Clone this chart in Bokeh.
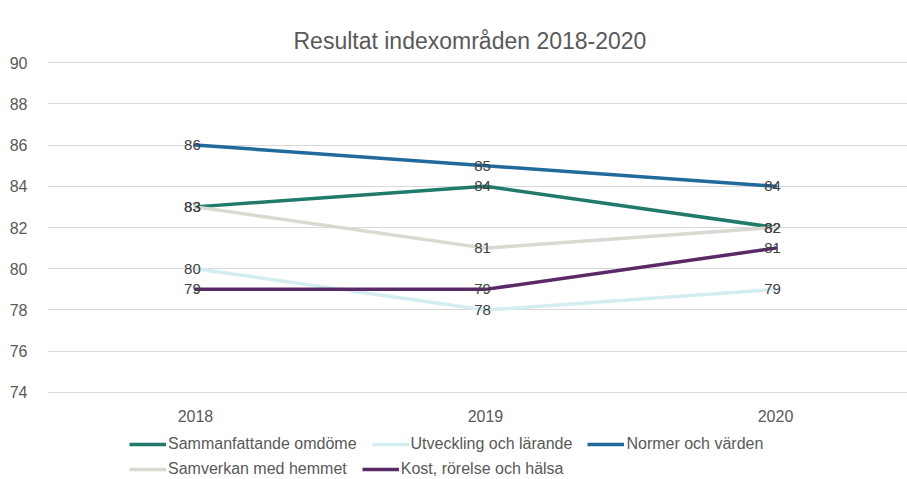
from bokeh.plotting import figure
from bokeh.models import Legend, LegendItem, ColumnDataSource, FixedTicker, Range1d, Title
from bokeh.layouts import column
from bokeh.embed import file_html
from bokeh.resources import INLINE
from bokeh.core.properties import value

years = [2018, 2019, 2020]
series_names = ["Sammanfattande omdöme", "Utveckling och lärande", "Normer och värden",
                "Samverkan med hemmet", "Kost, rörelse och hälsa"]
sammanfattande = [83, 84, 82]
utveckling = [80, 78, 79]
normer = [86, 85, 84]
samverkan = [83, 81, 82]
kost = [79, 79, 81]
y_ticks = [74, 76, 78, 80, 82, 84, 86, 88, 90]

colors = ["#217a6c", "#d3edf0", "#22699c", "#d9d8d1", "#5a2a66"]
all_values = [sammanfattande, utveckling, normer, samverkan, kost]

FONT = "Liberation Sans"

# ---- main chart ----
p = figure(width=907, height=428, output_backend="svg", toolbar_location=None,
           x_range=Range1d(2017.49, 2020.455), y_range=Range1d(73.95, 90.05),
           min_border_left=47, min_border_right=0, min_border_top=61, min_border_bottom=35)
p.outline_line_color = None
p.background_fill_color = "white"
p.border_fill_color = "white"

t = Title(text="Resultat indexområden 2018-2020", align="left", offset=246, text_font=FONT,
          text_font_size="23px", text_color="#595959", text_font_style="normal",
          standoff=16)
p.add_layout(t, "above")

p.xgrid.grid_line_color = None
p.ygrid.grid_line_color = "#d9d9d9"
p.ygrid.grid_line_width = 1

p.yaxis.ticker = FixedTicker(ticks=y_ticks)
p.xaxis.ticker = FixedTicker(ticks=years)
for ax in (p.xaxis, p.yaxis):
    ax.axis_line_color = None
    ax.major_tick_line_color = None
    ax.minor_tick_line_color = None
    ax.major_label_text_font = FONT
    ax.major_label_text_font_size = "16px"
    ax.major_label_text_color = "#595959"
p.yaxis.major_label_standoff = 14
p.xaxis.major_label_standoff = 10

for vals, c in zip(all_values, colors):
    p.line(years, vals, line_color=c, line_width=3.5, line_join="round", line_cap="round")

for vals in all_values:
    src = ColumnDataSource(dict(x=years, y=vals, t=[str(v) for v in vals]))
    p.text(x="x", y="y", text="t", source=src, text_align="center", text_baseline="middle",
           text_font=value(FONT), text_font_size="15px", text_color="#404040", x_offset=-3)

# ---- legend strip (series drawn out of view; only their legend swatches show) ----
lg = figure(width=907, height=51, output_backend="svg", toolbar_location=None,
            x_range=Range1d(0, 1), y_range=Range1d(0, 1),
            x_axis_location=None, y_axis_location=None,
            min_border_left=0, min_border_right=0, min_border_top=0, min_border_bottom=0)
lg.outline_line_color = None
lg.xgrid.grid_line_color = None
lg.ygrid.grid_line_color = None
lg.border_fill_color = "white"

swatches = [lg.line(years, vals, line_color=c, line_width=3.5)
            for vals, c in zip(all_values, colors)]

leg_kw = dict(orientation="horizontal", glyph_width=37, glyph_height=16, label_standoff=2,
              spacing=15, padding=0, margin=0, label_height=16, border_line_color=None,
              background_fill_alpha=0, label_text_font=FONT, label_text_font_size="16px",
              label_text_color="#595959")
leg1 = Legend(items=[LegendItem(label=series_names[i], renderers=[swatches[i]]) for i in range(3)],
              location=(82, 26), **leg_kw)
leg2 = Legend(items=[LegendItem(label=series_names[i], renderers=[swatches[i]]) for i in range(3, 5)],
              location=(82, 1), **leg_kw)
lg.add_layout(leg1, "center")
lg.add_layout(leg2, "center")

layout = column(p, lg, spacing=0)
open("out.html", "w").write(file_html(layout, INLINE))
